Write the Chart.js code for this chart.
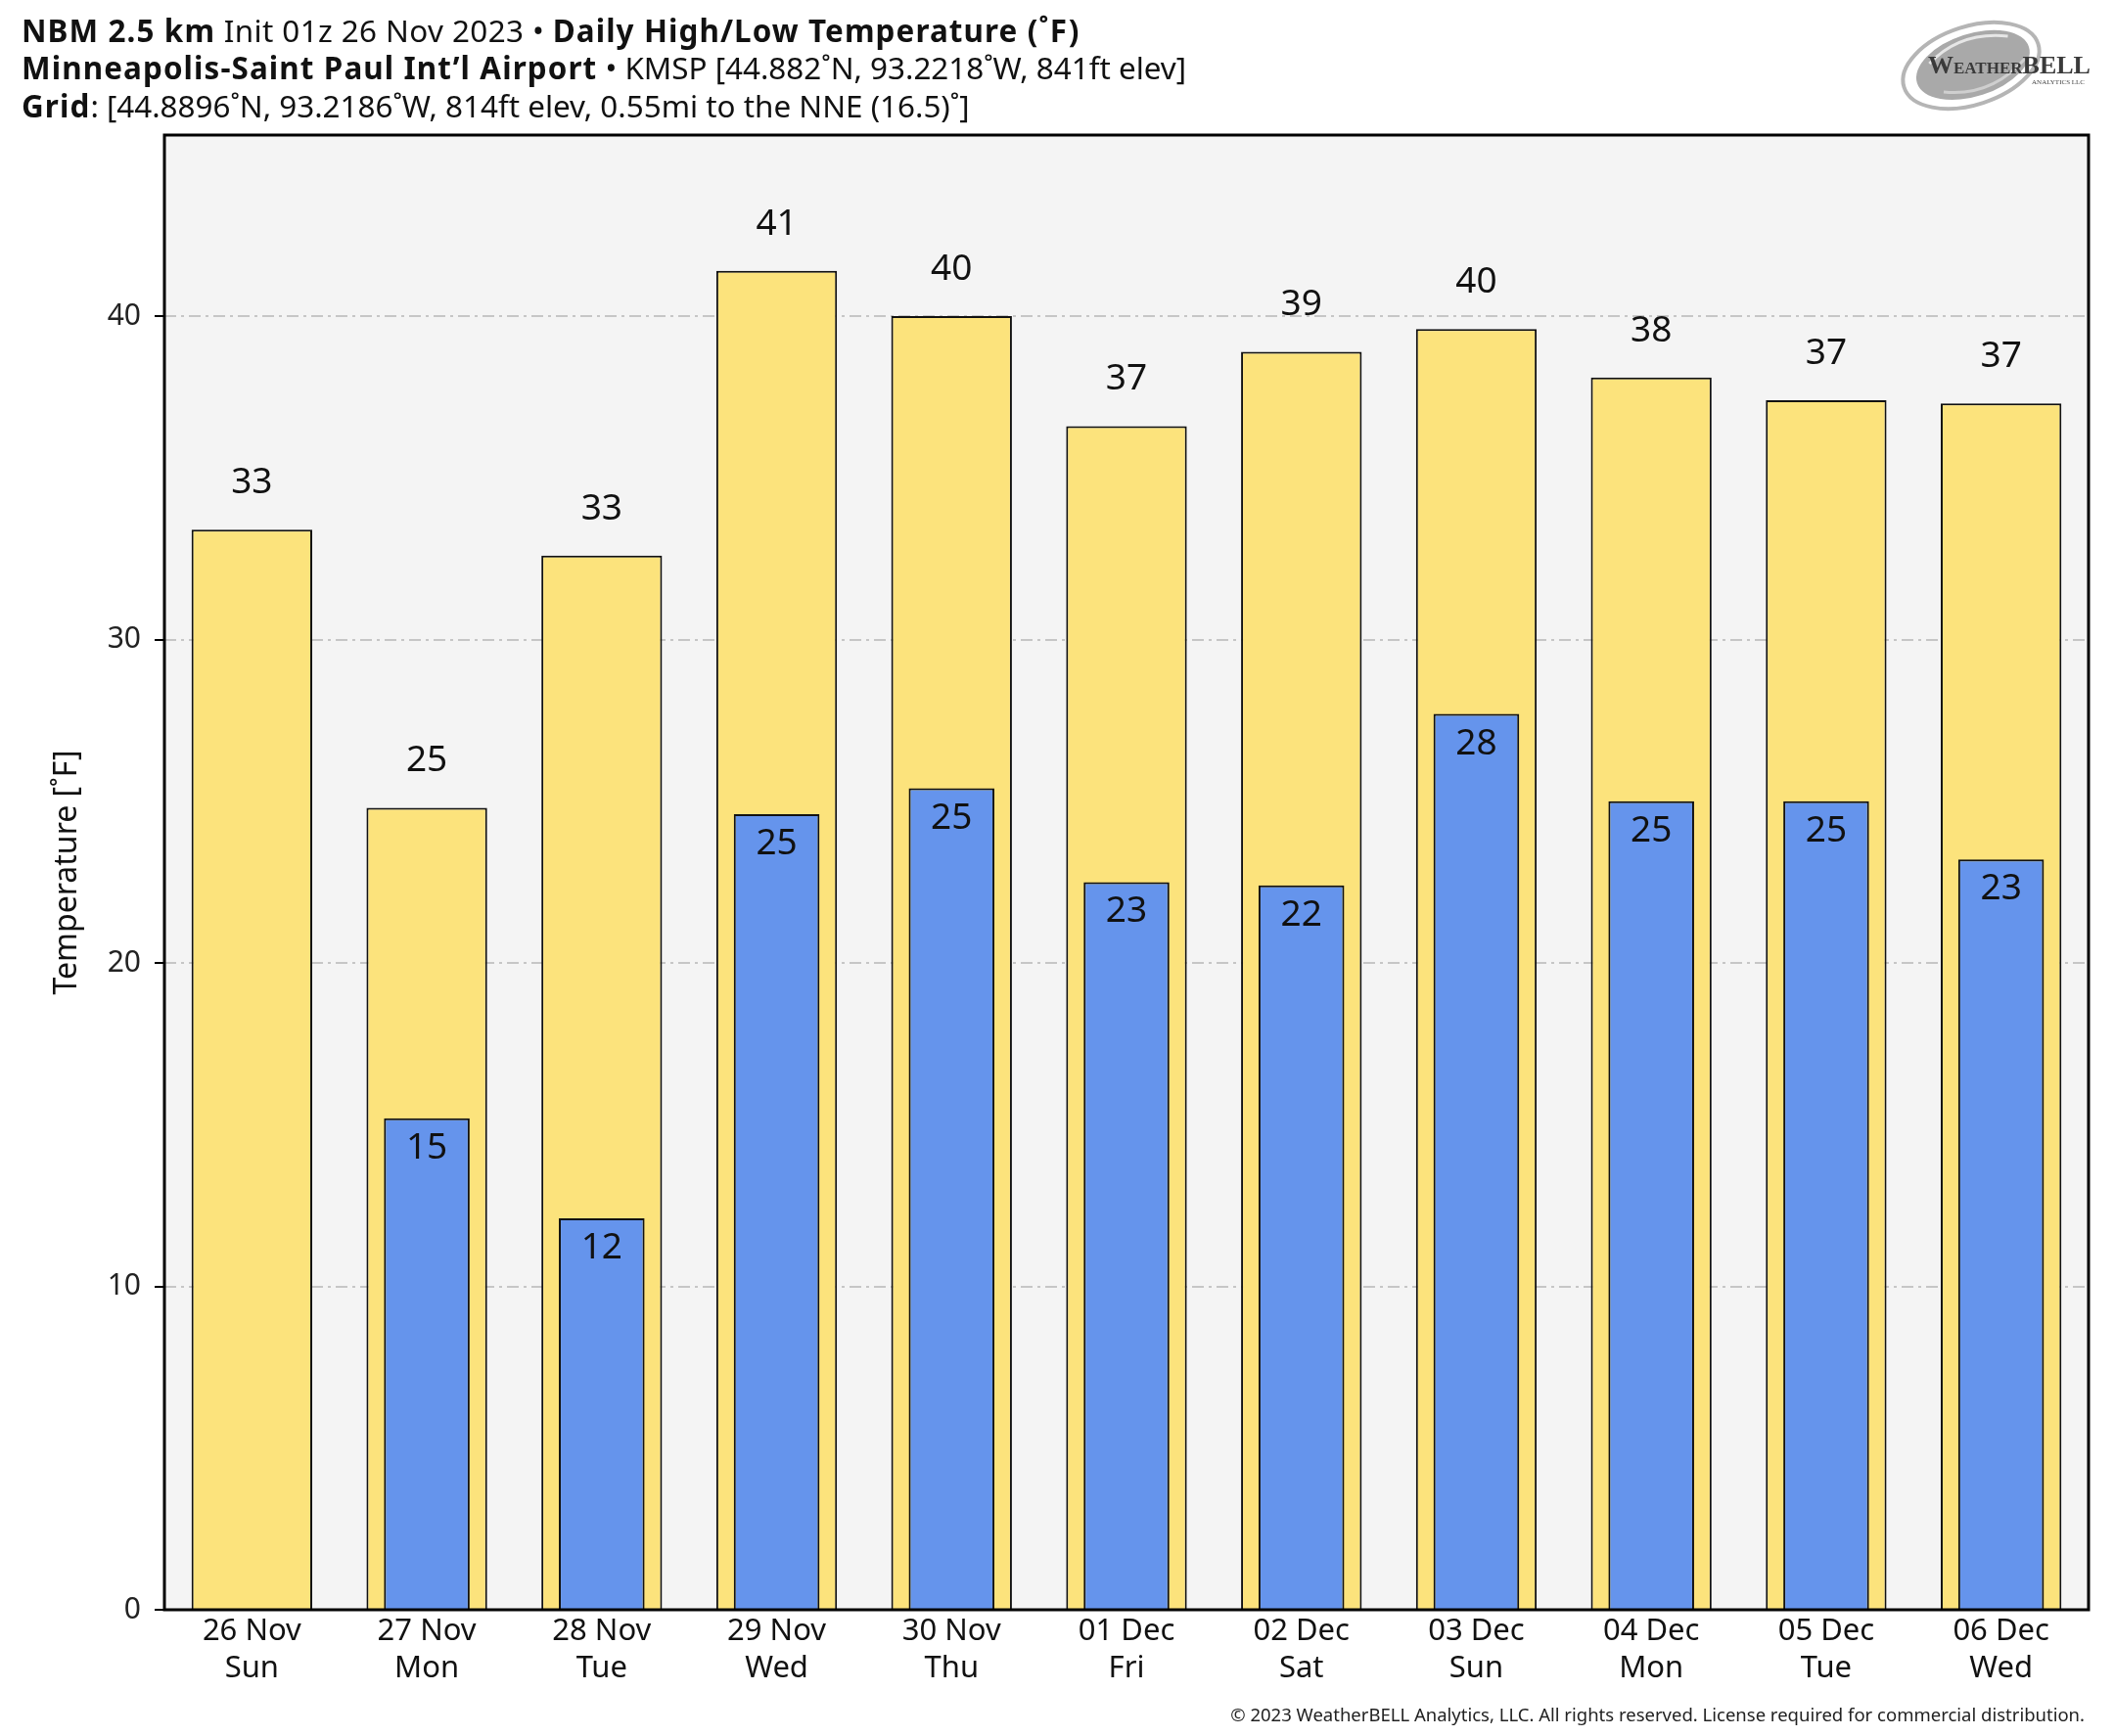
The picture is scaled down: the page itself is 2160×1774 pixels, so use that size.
<!DOCTYPE html>
<html><head><meta charset="utf-8">
<script src="https://cdn.jsdelivr.net/npm/chart.js@4"></script>
<style>
html,body{margin:0;padding:0;background:#fff;}
#wrap{position:relative;width:2160px;height:1774px;overflow:hidden;}
#c{position:absolute;left:0;top:0;}
.t{position:absolute;left:22px;top:12px;font-family:"Noto Sans";font-size:31.4px;color:#111;white-space:nowrap;line-height:38.3px;}
.t b{font-weight:700;letter-spacing:1.1px;}
.t .w{letter-spacing:0.4px;}
.copy{position:absolute;right:30px;top:1739px;font-family:"Noto Sans";font-size:18.5px;color:#222;white-space:nowrap;}
#logo{position:absolute;left:1934px;top:12px;}
</style></head>
<body>
<div id="wrap">
<canvas id="c" width="2160" height="1774"></canvas>
<div class="t"><b>NBM 2.5 km</b><span class="w"> Init 01z 26 Nov 2023 • </span><b>Daily High/Low Temperature (˚F)</b><br><b>Minneapolis-Saint Paul Int’l Airport</b> • KMSP [44.882˚N, 93.2218˚W, 841ft elev]<br><b>Grid</b>: [44.8896˚N, 93.2186˚W, 814ft elev, 0.55mi to the NNE (16.5)˚]</div>
<svg id="logo" width="205" height="110" viewBox="0 0 205 110">
  <g transform="rotate(-18 80 55)">
    <ellipse cx="80" cy="55" rx="72" ry="40" fill="none" stroke="#b5b5b5" stroke-width="4"/>
    <ellipse cx="82" cy="55" rx="60" ry="32" fill="#a9a9a9"/>
    <path d="M40 40 Q80 18 125 38" fill="none" stroke="#e6e6e6" stroke-width="3"/>
    <path d="M45 72 Q90 92 135 65" fill="none" stroke="#cfcfcf" stroke-width="3"/>
  </g>
  <text x="36" y="63" font-family="Liberation Serif" font-size="26" fill="#3a3a3a" font-weight="bold">W<tspan font-size="17">EATHER</tspan><tspan font-size="26">BELL</tspan></text>
  <text x="196" y="74" text-anchor="end" font-family="Liberation Serif" font-size="7" fill="#444">ANALYTICS LLC</text>
</svg>
<div class="copy">© 2023 WeatherBELL Analytics, LLC. All rights reserved. License required for commercial distribution.</div>
</div>
<script>
const categories = [['26 Nov','Sun'],['27 Nov','Mon'],['28 Nov','Tue'],['29 Nov','Wed'],['30 Nov','Thu'],['01 Dec','Fri'],['02 Dec','Sat'],['03 Dec','Sun'],['04 Dec','Mon'],['05 Dec','Tue'],['06 Dec','Wed']];
const highTemps = [33.4, 24.8, 32.6, 41.4, 40.0, 36.6, 38.9, 39.6, 38.1, 37.4, 37.3];
const lowTemps  = [null, 15.2, 12.1, 24.6, 25.4, 22.5, 22.4, 27.7, 25.0, 25.0, 23.2];
const yTicks = [0, 10, 20, 30, 40];
const yMax = 45.6;

const frameBg = {
  id: 'frameBg',
  beforeDraw(chart) {
    const {ctx, chartArea: a} = chart;
    ctx.save();
    ctx.fillStyle = '#f4f4f4';
    ctx.fillRect(a.left, a.top, a.right - a.left, a.bottom - a.top);
    ctx.restore();
  },
  afterDraw(chart) {
    const {ctx, chartArea: a} = chart;
    ctx.save();
    ctx.strokeStyle = '#000';
    ctx.lineWidth = 3;
    ctx.strokeRect(a.left, a.top, a.right - a.left, a.bottom - a.top);
    ctx.translate(69, (a.top + a.bottom) / 2);
    ctx.rotate(-Math.PI / 2);
    ctx.fillStyle = '#111';
    ctx.font = '32px "Noto Sans"';
    ctx.textAlign = 'center';
    ctx.textBaseline = 'middle';
    ctx.fillText('Temperature [˚F]', 0, 0);
    ctx.restore();
  }
};

const valueLabels = {
  id: 'valueLabels',
  afterDatasetsDraw(chart) {
    const {ctx} = chart;
    ctx.save();
    ctx.font = '37px "Noto Sans"';
    ctx.fillStyle = '#111';
    ctx.textAlign = 'center';
    ctx.textBaseline = 'alphabetic';
    chart.data.datasets.forEach((ds, di) => {
      const meta = chart.getDatasetMeta(di);
      meta.data.forEach((bar, i) => {
        const v = ds.data[i];
        if (v === null || v === undefined) return;
        const txt = String(Math.round(v));
        const y = ds.isHigh ? bar.y - 37 : bar.y + 41;
        ctx.fillText(txt, bar.x, y);
      });
    });
    ctx.restore();
  }
};

new Chart(document.getElementById('c'), {
  type: 'bar',
  data: {
    labels: categories,
    datasets: [
      { label: 'Low', data: lowTemps, backgroundColor: '#6594ec', borderColor: '#111', borderWidth: 2,
        barPercentage: 0.49, categoryPercentage: 1, grouped: false, order: 0, isHigh: false },
      { label: 'High', data: highTemps, backgroundColor: '#fce37c', borderColor: '#111', borderWidth: 2,
        barPercentage: 0.69, categoryPercentage: 1, grouped: false, order: 1, isHigh: true }
    ]
  },
  options: {
    responsive: false,
    devicePixelRatio: 1,
    animation: false,
    layout: { padding: { left: 0, top: 138, right: 26, bottom: 0 } },
    plugins: { legend: { display: false }, tooltip: { enabled: false }, title: { display: false } },
    scales: {
      x: {
        grid: { display: false, drawTicks: false },
        border: { display: false },
        ticks: { color: '#111', font: { family: 'Noto Sans', size: 31, lineHeight: 1.2 }, padding: 4, maxRotation: 0, autoSkip: false },
        afterFit(s) { s.height = 129; }
      },
      y: {
        min: 0, max: yMax,
        afterBuildTicks(s) { s.ticks = yTicks.map(v => ({ value: v })); },
        ticks: { color: '#222', font: { family: 'Noto Sans', size: 30 }, padding: 14 },
        grid: { color: '#c6c6c6', lineWidth: 2, tickColor: '#000', tickLength: 10, tickWidth: 2, tickBorderDash: [] },
        border: { display: false, dash: [12, 5, 3, 5] },
        afterFit(s) { s.width = 168; }
      }
    }
  },
  plugins: [frameBg, valueLabels]
});
</script>
</body></html>
